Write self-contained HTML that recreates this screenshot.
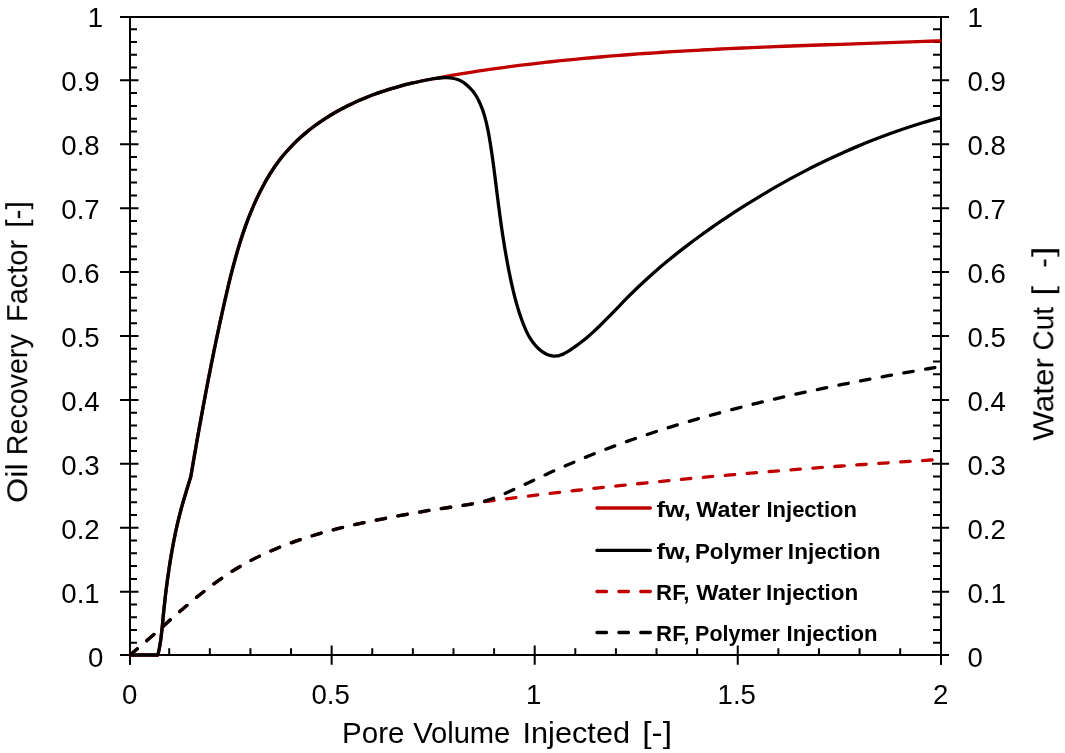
<!DOCTYPE html>
<html><head><meta charset="utf-8"><title>Chart</title>
<style>html,body{margin:0;padding:0;background:#fff}body{width:1065px;height:753px;overflow:hidden;font-family:"Liberation Sans",sans-serif}</style>
</head><body>
<svg width="1065" height="753" viewBox="0 0 1065 753" style="display:block">
<rect width="1065" height="753" fill="#fff"/>
<g stroke="#000" stroke-width="2" fill="none">
<path d="M120,17.0 H949"/>
<path d="M120,655.0 H949"/>
<path d="M130.0,16.0 V664.7"/>
<path d="M941.0,16.0 V664.7"/>
<path d="M120,655.00H138.5M932,655.00H949M130.0,642.82H137M933,642.82H941.0M130.0,630.03H137M933,630.03H941.0M130.0,617.25H137M933,617.25H941.0M130.0,604.46H137M933,604.46H941.0M120,591.68H138.5M932,591.68H949M130.0,578.90H137M933,578.90H941.0M130.0,566.11H137M933,566.11H941.0M130.0,553.33H137M933,553.33H941.0M130.0,540.54H137M933,540.54H941.0M120,527.76H138.5M932,527.76H949M130.0,514.98H137M933,514.98H941.0M130.0,502.19H137M933,502.19H941.0M130.0,489.41H137M933,489.41H941.0M130.0,476.62H137M933,476.62H941.0M120,463.84H138.5M932,463.84H949M130.0,451.06H137M933,451.06H941.0M130.0,438.27H137M933,438.27H941.0M130.0,425.49H137M933,425.49H941.0M130.0,412.70H137M933,412.70H941.0M120,399.92H138.5M932,399.92H949M130.0,387.14H137M933,387.14H941.0M130.0,374.35H137M933,374.35H941.0M130.0,361.57H137M933,361.57H941.0M130.0,348.78H137M933,348.78H941.0M120,336.00H138.5M932,336.00H949M130.0,323.22H137M933,323.22H941.0M130.0,310.43H137M933,310.43H941.0M130.0,297.65H137M933,297.65H941.0M130.0,284.86H137M933,284.86H941.0M120,272.08H138.5M932,272.08H949M130.0,259.30H137M933,259.30H941.0M130.0,246.51H137M933,246.51H941.0M130.0,233.73H137M933,233.73H941.0M130.0,220.94H137M933,220.94H941.0M120,208.16H138.5M932,208.16H949M130.0,195.38H137M933,195.38H941.0M130.0,182.59H137M933,182.59H941.0M130.0,169.81H137M933,169.81H941.0M130.0,157.02H137M933,157.02H941.0M120,144.24H138.5M932,144.24H949M130.0,131.46H137M933,131.46H941.0M130.0,118.67H137M933,118.67H941.0M130.0,105.89H137M933,105.89H941.0M130.0,93.10H137M933,93.10H941.0M120,80.32H138.5M932,80.32H949M130.0,67.54H137M933,67.54H941.0M130.0,54.75H137M933,54.75H941.0M130.0,41.97H137M933,41.97H941.0M130.0,29.18H137M933,29.18H941.0M120,17.00H138.5M932,17.00H949M130.00,645.5V664.7M169.21,648.3V655.0M209.82,648.3V655.0M250.43,648.3V655.0M291.04,648.3V655.0M331.65,645.5V664.7M372.26,648.3V655.0M412.87,648.3V655.0M453.48,648.3V655.0M494.09,648.3V655.0M534.70,645.5V664.7M575.31,648.3V655.0M615.92,648.3V655.0M656.53,648.3V655.0M697.14,648.3V655.0M737.75,645.5V664.7M778.36,648.3V655.0M818.97,648.3V655.0M859.58,648.3V655.0M900.19,648.3V655.0M941.00,645.5V664.7"/>
</g>
<g fill="none" stroke-width="3.3" stroke-linejoin="round">
<path d="M130,655 L156.6,655 L157.90,655.00 C158.13,653.97 158.83,650.96 159.25,648.79 C159.67,646.62 160.05,644.42 160.42,642.00 C160.78,639.58 161.10,637.16 161.44,634.27 C161.78,631.37 162.06,628.55 162.45,624.64 C162.83,620.72 163.30,615.39 163.77,610.76 C164.24,606.13 164.74,601.50 165.28,596.87 C165.82,592.24 166.40,587.61 167.02,582.99 C167.63,578.36 168.29,573.74 168.98,569.12 C169.68,564.50 170.41,559.89 171.20,555.29 C171.98,550.68 172.83,545.97 173.70,541.50 C174.56,537.03 175.47,532.65 176.40,528.48 C177.32,524.30 178.26,520.33 179.23,516.45 C180.20,512.57 181.19,508.88 182.22,505.18 C183.25,501.48 184.21,498.30 185.42,494.25 C186.63,490.20 188.55,483.92 189.47,480.88 C190.38,477.84 190.27,479.11 190.90,476.00 C191.53,472.89 192.46,466.82 193.26,462.23 C194.05,457.63 194.84,453.04 195.65,448.44 C196.45,443.85 197.26,439.25 198.08,434.66 C198.89,430.06 199.72,425.47 200.55,420.87 C201.39,416.28 202.23,411.69 203.08,407.09 C203.93,402.50 204.79,397.91 205.66,393.32 C206.53,388.73 207.41,384.14 208.30,379.55 C209.19,374.97 210.09,370.38 211.00,365.80 C211.91,361.22 212.83,356.64 213.77,352.06 C214.71,347.49 215.65,342.91 216.61,338.35 C217.57,333.78 218.55,329.21 219.53,324.65 C220.52,320.09 221.52,315.53 222.53,310.98 C223.55,306.43 224.57,301.88 225.62,297.34 C226.67,292.80 227.72,288.27 228.82,283.74 C229.91,279.21 231.02,274.70 232.19,270.19 C233.35,265.69 234.57,261.12 235.81,256.71 C237.05,252.31 238.36,247.87 239.62,243.77 C240.89,239.67 242.13,235.86 243.40,232.14 C244.66,228.41 245.93,224.88 247.22,221.42 C248.52,217.97 249.82,214.64 251.15,211.39 C252.49,208.15 253.85,204.97 255.22,201.94 C256.58,198.91 257.95,196.02 259.33,193.22 C260.71,190.42 262.10,187.75 263.50,185.16 C264.90,182.57 266.31,180.09 267.74,177.69 C269.16,175.29 270.60,172.99 272.05,170.76 C273.50,168.53 274.96,166.39 276.44,164.32 C277.91,162.25 279.40,160.27 280.91,158.34 C282.41,156.42 283.92,154.59 285.47,152.79 C287.02,150.98 288.57,149.25 290.21,147.51 C291.84,145.77 293.53,144.05 295.27,142.34 C297.01,140.64 298.81,138.96 300.66,137.29 C302.51,135.63 304.42,133.98 306.38,132.36 C308.34,130.74 310.36,129.13 312.44,127.55 C314.52,125.97 316.65,124.41 318.84,122.88 C321.03,121.35 323.27,119.83 325.57,118.35 C327.87,116.87 330.23,115.41 332.63,113.98 C335.04,112.56 337.50,111.16 340.00,109.79 C342.51,108.43 345.07,107.09 347.67,105.80 C350.27,104.50 352.92,103.24 355.61,102.01 C358.30,100.78 361.03,99.60 363.82,98.44 C366.61,97.28 369.45,96.16 372.35,95.07 C375.25,93.98 378.20,92.92 381.23,91.90 C384.26,90.87 387.34,89.87 390.52,88.91 C393.69,87.94 396.93,87.01 400.27,86.10 C403.61,85.19 407.03,84.31 410.57,83.46 C414.11,82.61 417.73,81.78 421.50,80.99 C425.26,80.21 430.70,79.20 433.17,78.75 C435.64,78.30 433.49,78.81 436.31,78.30 C439.13,77.79 445.48,76.51 450.07,75.68 C454.66,74.86 459.25,74.08 463.84,73.33 C468.44,72.58 473.03,71.87 477.63,71.18 C482.24,70.49 486.84,69.82 491.45,69.17 C496.06,68.52 500.68,67.89 505.30,67.27 C509.92,66.66 514.54,66.06 519.17,65.48 C523.80,64.90 528.43,64.34 533.06,63.79 C537.70,63.25 542.34,62.72 546.98,62.20 C551.62,61.69 556.26,61.19 560.91,60.71 C565.55,60.22 570.20,59.76 574.85,59.30 C579.49,58.85 584.14,58.41 588.79,57.99 C593.45,57.56 598.10,57.15 602.75,56.75 C607.40,56.35 612.06,55.97 616.71,55.59 C621.37,55.22 626.02,54.86 630.68,54.51 C635.34,54.16 639.99,53.82 644.65,53.49 C649.31,53.17 653.97,52.85 658.63,52.54 C663.29,52.24 667.95,51.94 672.61,51.66 C677.27,51.37 681.93,51.09 686.59,50.83 C691.25,50.56 695.91,50.30 700.57,50.05 C705.23,49.80 709.89,49.56 714.56,49.32 C719.22,49.09 723.88,48.86 728.54,48.64 C733.20,48.42 737.86,48.20 742.53,47.99 C747.19,47.79 751.85,47.58 756.51,47.39 C761.17,47.19 765.83,47.00 770.50,46.81 C775.16,46.63 779.82,46.44 784.48,46.27 C789.14,46.09 793.80,45.91 798.47,45.74 C803.13,45.57 807.79,45.41 812.45,45.24 C817.11,45.07 821.78,44.91 826.44,44.75 C831.10,44.59 835.76,44.43 840.43,44.28 C845.09,44.12 849.75,43.96 854.41,43.81 C859.08,43.65 863.74,43.50 868.40,43.34 C873.07,43.19 877.73,43.03 882.39,42.88 C887.06,42.72 891.72,42.56 896.39,42.40 C901.05,42.25 905.72,42.09 910.38,41.92 C915.05,41.76 919.71,41.60 924.38,41.43 C929.04,41.26 935.52,41.02 938.38,40.92 C941.23,40.81 940.98,40.82 941.50,40.80" stroke="#c00000"/>
<path d="M130,655 L156.6,655 L157.90,655.00 C158.13,653.97 158.83,650.96 159.25,648.79 C159.67,646.62 160.05,644.42 160.42,642.00 C160.78,639.58 161.10,637.16 161.44,634.27 C161.78,631.37 162.06,628.55 162.45,624.64 C162.83,620.72 163.30,615.39 163.77,610.76 C164.24,606.13 164.74,601.50 165.28,596.87 C165.82,592.24 166.40,587.61 167.02,582.99 C167.63,578.36 168.29,573.74 168.98,569.12 C169.68,564.50 170.41,559.89 171.20,555.29 C171.98,550.68 172.83,545.97 173.70,541.50 C174.56,537.03 175.47,532.65 176.40,528.48 C177.32,524.30 178.26,520.33 179.23,516.45 C180.20,512.57 181.19,508.88 182.22,505.18 C183.25,501.48 184.21,498.30 185.42,494.25 C186.63,490.20 188.55,483.92 189.47,480.88 C190.38,477.84 190.27,479.11 190.90,476.00 C191.53,472.89 192.46,466.82 193.26,462.23 C194.05,457.63 194.84,453.04 195.65,448.44 C196.45,443.85 197.26,439.25 198.08,434.66 C198.89,430.06 199.72,425.47 200.55,420.87 C201.39,416.28 202.23,411.69 203.08,407.09 C203.93,402.50 204.79,397.91 205.66,393.32 C206.53,388.73 207.41,384.14 208.30,379.55 C209.19,374.97 210.09,370.38 211.00,365.80 C211.91,361.22 212.83,356.64 213.77,352.06 C214.71,347.49 215.65,342.91 216.61,338.35 C217.57,333.78 218.55,329.21 219.53,324.65 C220.52,320.09 221.52,315.53 222.53,310.98 C223.55,306.43 224.57,301.88 225.62,297.34 C226.67,292.80 227.72,288.27 228.82,283.74 C229.91,279.21 231.02,274.70 232.19,270.19 C233.35,265.69 234.57,261.12 235.81,256.71 C237.05,252.31 238.36,247.87 239.62,243.77 C240.89,239.67 242.13,235.86 243.40,232.14 C244.66,228.41 245.93,224.88 247.22,221.42 C248.52,217.97 249.82,214.64 251.15,211.39 C252.49,208.15 253.85,204.97 255.22,201.94 C256.58,198.91 257.95,196.02 259.33,193.22 C260.71,190.42 262.10,187.75 263.50,185.16 C264.90,182.57 266.31,180.09 267.74,177.69 C269.16,175.29 270.60,172.99 272.05,170.76 C273.50,168.53 274.96,166.39 276.44,164.32 C277.91,162.25 279.40,160.27 280.91,158.34 C282.41,156.42 283.92,154.59 285.47,152.79 C287.02,150.98 288.57,149.25 290.21,147.51 C291.84,145.77 293.53,144.05 295.27,142.34 C297.01,140.64 298.81,138.96 300.66,137.29 C302.51,135.63 304.42,133.98 306.38,132.36 C308.34,130.74 310.36,129.13 312.44,127.55 C314.52,125.97 316.65,124.41 318.84,122.88 C321.03,121.35 323.27,119.83 325.57,118.35 C327.87,116.87 330.23,115.41 332.63,113.98 C335.04,112.56 337.50,111.16 340.00,109.79 C342.51,108.43 345.07,107.09 347.67,105.80 C350.27,104.50 352.92,103.24 355.61,102.01 C358.30,100.78 361.03,99.60 363.82,98.44 C366.61,97.28 369.45,96.16 372.35,95.07 C375.25,93.98 378.20,92.92 381.23,91.90 C384.26,90.87 387.34,89.87 390.52,88.91 C393.69,87.94 396.93,87.01 400.27,86.10 C403.61,85.19 407.03,84.31 410.57,83.46 C414.11,82.61 417.73,81.78 421.50,80.99 C425.26,80.21 430.70,79.20 433.17,78.75 C435.64,78.30 434.84,78.46 436.31,78.30 C437.78,78.13 440.31,77.85 442.01,77.75 C443.72,77.64 445.15,77.64 446.55,77.67 C447.95,77.70 449.20,77.80 450.41,77.93 C451.61,78.07 452.71,78.26 453.78,78.49 C454.84,78.72 455.83,78.99 456.80,79.30 C457.76,79.61 458.66,79.96 459.54,80.36 C460.43,80.75 461.25,81.17 462.11,81.67 C462.97,82.17 463.84,82.72 464.70,83.34 C465.57,83.96 466.44,84.64 467.30,85.38 C468.15,86.12 469.01,86.92 469.85,87.78 C470.68,88.64 471.49,89.55 472.28,90.52 C473.07,91.49 473.84,92.50 474.59,93.59 C475.34,94.67 476.07,95.82 476.78,97.04 C477.49,98.26 478.18,99.54 478.86,100.91 C479.53,102.28 480.19,103.72 480.83,105.26 C481.47,106.80 482.09,108.42 482.69,110.14 C483.29,111.86 483.88,113.68 484.45,115.61 C485.01,117.53 485.56,119.56 486.08,121.70 C486.61,123.84 487.08,125.96 487.59,128.44 C488.10,130.92 488.56,133.26 489.14,136.59 C489.72,139.92 490.43,144.11 491.09,148.41 C491.75,152.70 492.47,157.70 493.11,162.37 C493.75,167.04 494.34,171.75 494.94,176.42 C495.53,181.10 496.10,185.79 496.68,190.43 C497.26,195.07 497.83,199.68 498.42,204.27 C499.02,208.86 499.61,213.42 500.24,217.97 C500.86,222.53 501.50,227.07 502.18,231.61 C502.85,236.16 503.55,240.70 504.30,245.26 C505.04,249.82 505.82,254.38 506.66,258.97 C507.49,263.57 508.36,268.18 509.31,272.83 C510.25,277.48 511.32,282.53 512.31,286.86 C513.30,291.19 514.29,295.17 515.25,298.82 C516.20,302.47 517.13,305.69 518.06,308.77 C518.99,311.84 519.91,314.63 520.83,317.28 C521.75,319.93 522.66,322.36 523.57,324.67 C524.49,326.97 525.48,329.26 526.33,331.10 C527.18,332.94 527.89,334.29 528.65,335.68 C529.41,337.07 530.14,338.27 530.91,339.45 C531.68,340.63 532.45,341.71 533.27,342.77 C534.08,343.84 534.92,344.84 535.82,345.82 C536.71,346.80 537.69,347.80 538.65,348.67 C539.60,349.55 540.59,350.37 541.54,351.09 C542.50,351.81 543.45,352.44 544.38,352.99 C545.31,353.54 546.23,354.00 547.12,354.39 C548.02,354.78 548.89,355.09 549.76,355.35 C550.62,355.60 551.48,355.78 552.31,355.91 C553.14,356.04 553.97,356.10 554.74,356.11 C555.52,356.12 556.21,356.06 556.93,355.97 C557.66,355.87 558.35,355.73 559.08,355.54 C559.81,355.34 560.55,355.10 561.34,354.79 C562.13,354.48 562.92,354.13 563.83,353.68 C564.73,353.22 565.59,352.76 566.77,352.06 C567.94,351.37 569.29,350.55 570.86,349.52 C572.44,348.49 574.40,347.17 576.20,345.88 C578.00,344.59 579.81,343.24 581.66,341.79 C583.51,340.34 585.38,338.82 587.32,337.17 C589.26,335.52 591.22,333.79 593.31,331.88 C595.40,329.97 597.51,327.99 599.86,325.71 C602.21,323.43 604.51,321.14 607.41,318.20 C610.30,315.26 613.95,311.44 617.23,308.07 C620.51,304.69 623.79,301.24 627.07,297.94 C630.35,294.63 633.70,291.32 636.90,288.24 C640.10,285.16 643.09,282.37 646.28,279.45 C649.48,276.54 652.73,273.63 656.06,270.73 C659.39,267.83 662.79,264.94 666.28,262.05 C669.76,259.15 673.34,256.24 676.96,253.37 C680.58,250.50 684.29,247.62 688.00,244.81 C691.70,241.99 695.44,239.22 699.20,236.47 C702.96,233.73 706.75,231.03 710.57,228.36 C714.38,225.68 718.22,223.04 722.08,220.44 C725.94,217.83 729.82,215.25 733.72,212.70 C737.63,210.15 741.55,207.63 745.50,205.15 C749.44,202.66 753.41,200.21 757.40,197.79 C761.39,195.37 765.40,192.98 769.43,190.62 C773.45,188.27 777.50,185.95 781.57,183.67 C785.64,181.38 789.73,179.13 793.84,176.92 C797.95,174.71 802.08,172.54 806.23,170.40 C810.37,168.26 814.54,166.16 818.73,164.10 C822.91,162.04 827.12,160.02 831.34,158.04 C835.57,156.06 839.81,154.12 844.07,152.22 C848.33,150.32 852.61,148.46 856.90,146.64 C861.20,144.83 865.51,143.06 869.85,141.33 C874.18,139.60 878.53,137.91 882.89,136.27 C887.26,134.63 891.64,133.04 896.04,131.49 C900.44,129.94 904.86,128.43 909.30,126.98 C913.73,125.52 918.18,124.11 922.65,122.75 C927.11,121.39 933.11,119.68 936.09,118.82 C939.07,117.96 939.77,117.80 940.50,117.60" stroke="#000"/>
<path d="M130.00,655.00 C131.66,653.60 136.54,649.53 139.95,646.61 C143.35,643.69 146.93,640.56 150.42,637.49 C153.92,634.42 157.41,631.30 160.92,628.19 C164.43,625.08 167.94,621.94 171.48,618.83 C175.02,615.71 178.56,612.59 182.14,609.51 C185.72,606.43 189.32,603.35 192.95,600.34 C196.58,597.33 200.49,594.16 203.94,591.45 C207.39,588.73 210.54,586.34 213.63,584.05 C216.73,581.75 219.64,579.68 222.50,577.70 C225.37,575.71 228.12,573.89 230.82,572.15 C233.53,570.41 236.10,568.83 238.75,567.26 C241.39,565.69 243.99,564.21 246.69,562.73 C249.39,561.25 252.13,559.80 254.94,558.38 C257.74,556.96 260.60,555.57 263.52,554.20 C266.45,552.84 269.43,551.50 272.49,550.18 C275.55,548.87 278.67,547.58 281.88,546.31 C285.09,545.04 288.37,543.80 291.75,542.58 C295.13,541.35 298.59,540.15 302.17,538.96 C305.74,537.78 309.41,536.61 313.21,535.46 C317.02,534.31 320.92,533.18 325.00,532.05 C329.07,530.93 333.27,529.82 337.67,528.71 C342.07,527.60 346.80,526.47 351.40,525.41 C355.99,524.35 360.60,523.35 365.22,522.37 C369.85,521.38 374.49,520.44 379.13,519.52 C383.77,518.60 388.43,517.72 393.09,516.84 C397.75,515.96 402.42,515.11 407.08,514.27 C411.74,513.43 416.41,512.60 421.05,511.80 C425.70,511.01 430.34,510.24 434.96,509.52 C439.57,508.80 444.16,508.15 448.72,507.50 C453.27,506.84 458.25,506.22 462.29,505.60 C466.34,504.99 470.02,504.36 472.97,503.80 C475.92,503.25 476.49,502.85 479.99,502.29 C483.48,501.73 489.29,501.04 493.94,500.44 C498.59,499.83 503.24,499.23 507.89,498.64 C512.54,498.04 517.19,497.46 521.83,496.88 C526.48,496.30 531.13,495.73 535.77,495.17 C540.41,494.60 545.06,494.04 549.70,493.49 C554.34,492.94 558.98,492.39 563.62,491.85 C568.26,491.31 572.90,490.78 577.54,490.25 C582.17,489.72 586.81,489.20 591.45,488.69 C596.08,488.17 600.72,487.66 605.36,487.16 C609.99,486.65 614.63,486.16 619.26,485.66 C623.90,485.17 628.53,484.68 633.16,484.20 C637.80,483.72 642.43,483.25 647.06,482.78 C651.70,482.31 656.33,481.85 660.96,481.39 C665.60,480.93 670.23,480.47 674.86,480.03 C679.50,479.58 684.13,479.14 688.76,478.70 C693.40,478.26 698.03,477.83 702.66,477.40 C707.30,476.98 711.93,476.55 716.57,476.14 C721.20,475.72 725.84,475.31 730.47,474.90 C735.11,474.49 739.75,474.09 744.38,473.69 C749.02,473.30 753.66,472.90 758.30,472.51 C762.93,472.13 767.57,471.74 772.21,471.36 C776.86,470.98 781.50,470.61 786.14,470.24 C790.78,469.87 795.42,469.50 800.07,469.14 C804.71,468.78 809.36,468.42 814.01,468.07 C818.65,467.72 823.30,467.37 827.95,467.02 C832.60,466.68 837.25,466.34 841.91,466.00 C846.56,465.66 851.21,465.33 855.87,465.00 C860.53,464.67 865.18,464.35 869.84,464.03 C874.50,463.70 879.16,463.39 883.83,463.07 C888.49,462.76 893.16,462.45 897.82,462.14 C902.49,461.83 907.16,461.53 911.83,461.23 C916.50,460.93 921.18,460.63 925.85,460.34 C930.53,460.05 937.36,459.63 939.89,459.47 C942.41,459.31 940.82,459.41 941.00,459.40" stroke="#c00000" stroke-dasharray="9.5 12.5" stroke-linecap="round"/>
<path d="M130.00,655.00 C131.66,653.60 136.54,649.53 139.95,646.61 C143.35,643.69 146.93,640.56 150.42,637.49 C153.92,634.42 157.41,631.30 160.92,628.19 C164.43,625.08 167.94,621.94 171.48,618.83 C175.02,615.71 178.56,612.59 182.14,609.51 C185.72,606.43 189.32,603.35 192.95,600.34 C196.58,597.33 200.49,594.16 203.94,591.45 C207.39,588.73 210.54,586.34 213.63,584.05 C216.73,581.75 219.64,579.68 222.50,577.70 C225.37,575.71 228.12,573.89 230.82,572.15 C233.53,570.41 236.10,568.83 238.75,567.26 C241.39,565.69 243.99,564.21 246.69,562.73 C249.39,561.25 252.13,559.80 254.94,558.38 C257.74,556.96 260.60,555.57 263.52,554.20 C266.45,552.84 269.43,551.50 272.49,550.18 C275.55,548.87 278.67,547.58 281.88,546.31 C285.09,545.04 288.37,543.80 291.75,542.58 C295.13,541.35 298.59,540.15 302.17,538.96 C305.74,537.78 309.41,536.61 313.21,535.46 C317.02,534.31 320.92,533.18 325.00,532.05 C329.07,530.93 333.27,529.82 337.67,528.71 C342.07,527.60 346.80,526.47 351.40,525.41 C355.99,524.35 360.60,523.35 365.22,522.37 C369.85,521.38 374.49,520.44 379.13,519.52 C383.77,518.60 388.43,517.72 393.09,516.84 C397.75,515.96 402.42,515.11 407.08,514.27 C411.74,513.43 416.41,512.60 421.05,511.80 C425.70,511.01 430.34,510.24 434.96,509.52 C439.57,508.80 444.16,508.15 448.72,507.50 C453.27,506.84 458.25,506.22 462.29,505.60 C466.34,504.99 470.02,504.36 472.97,503.80 C475.92,503.25 477.76,502.82 479.99,502.29 C482.21,501.75 484.29,501.19 486.30,500.60 C488.31,500.00 490.09,499.42 492.05,498.73 C494.00,498.04 495.86,497.33 498.03,496.46 C500.21,495.58 502.36,494.67 505.10,493.46 C507.84,492.25 510.76,490.92 514.46,489.20 C518.17,487.48 523.05,485.14 527.33,483.14 C531.60,481.13 535.85,479.13 540.10,477.17 C544.35,475.21 548.58,473.28 552.81,471.37 C557.05,469.47 561.28,467.60 565.52,465.75 C569.77,463.91 574.01,462.09 578.27,460.31 C582.54,458.52 586.81,456.77 591.11,455.04 C595.41,453.31 599.73,451.61 604.07,449.94 C608.41,448.27 612.76,446.63 617.14,445.02 C621.51,443.41 625.90,441.83 630.30,440.28 C634.70,438.73 639.12,437.20 643.55,435.71 C647.97,434.21 652.41,432.75 656.86,431.31 C661.31,429.87 665.77,428.46 670.24,427.07 C674.71,425.68 679.19,424.32 683.67,422.98 C688.16,421.65 692.65,420.33 697.15,419.04 C701.65,417.75 706.16,416.49 710.67,415.25 C715.18,414.00 719.70,412.78 724.22,411.58 C728.74,410.38 733.27,409.20 737.80,408.04 C742.32,406.88 746.85,405.73 751.39,404.61 C755.92,403.49 760.45,402.39 764.99,401.30 C769.53,400.21 774.07,399.15 778.61,398.10 C783.16,397.04 787.70,396.01 792.25,394.99 C796.80,393.98 801.35,392.97 805.91,391.99 C810.46,391.00 815.02,390.03 819.58,389.08 C824.14,388.12 828.70,387.18 833.27,386.25 C837.83,385.32 842.40,384.41 846.97,383.51 C851.55,382.61 856.12,381.72 860.70,380.84 C865.28,379.97 869.86,379.10 874.44,378.25 C879.03,377.40 883.62,376.56 888.21,375.73 C892.80,374.89 897.39,374.07 901.99,373.26 C906.58,372.45 911.18,371.65 915.79,370.86 C920.39,370.06 925.40,369.21 929.61,368.50 C933.81,367.79 939.10,366.92 941.00,366.60" stroke="#000" stroke-dasharray="9.5 12.5" stroke-linecap="round"/>
</g>
<g fill="none" stroke-width="3.3" stroke-linecap="round">
<path d="M596.95,508H650.35" stroke="#c00000"/>
<path d="M596.95,550.4H650.35" stroke="#000"/>
<path d="M596.95,591.5H650.35" stroke="#c00000" stroke-dasharray="9.6 12.3"/>
<path d="M596.95,632.5H650.35" stroke="#000" stroke-dasharray="9.6 12.3"/>
</g>
<g font-family="Liberation Sans, sans-serif" font-size="30" fill="#000" style="will-change:opacity">
<text x="342.06" y="743.20" textLength="62.35" lengthAdjust="spacingAndGlyphs">Pore</text>
<text x="413.15" y="743.20" textLength="97.20" lengthAdjust="spacingAndGlyphs">Volume</text>
<text x="522.50" y="743.20" textLength="107.54" lengthAdjust="spacingAndGlyphs">Injected</text>
<text x="642.30" y="743.20" textLength="29.72" lengthAdjust="spacingAndGlyphs">[-]</text>
<g transform="translate(27.2,0) rotate(-90)">
<text x="-503.07" y="0.00" textLength="39.68" lengthAdjust="spacingAndGlyphs">Oil</text>
<text x="-455.16" y="0.00" textLength="120.87" lengthAdjust="spacingAndGlyphs">Recovery</text>
<text x="-321.89" y="0.00" textLength="81.96" lengthAdjust="spacingAndGlyphs">Factor</text>
<text x="-227.87" y="0.00" textLength="26.81" lengthAdjust="spacingAndGlyphs">[-]</text>
</g>
<g transform="translate(1053.3,0) rotate(-90)">
<text x="-440.71" y="0.00" textLength="82.74" lengthAdjust="spacingAndGlyphs">Water</text>
<text x="-350.38" y="0.00" textLength="43.51" lengthAdjust="spacingAndGlyphs">Cut</text>
<text x="-295.46" y="0.00" textLength="9.56" lengthAdjust="spacingAndGlyphs">[</text>
<text x="-267.80" y="0.00" textLength="9.61" lengthAdjust="spacingAndGlyphs">-</text>
<text x="-257.01" y="0.00" textLength="10.53" lengthAdjust="spacingAndGlyphs">]</text>
</g>
</g>
<g font-family="Liberation Sans, sans-serif" font-size="22.8" font-weight="bold" fill="#000" style="will-change:opacity">
<text x="656.56" y="516.90" textLength="34.31" lengthAdjust="spacingAndGlyphs">fw,</text>
<text x="696.32" y="516.90" textLength="63.84" lengthAdjust="spacingAndGlyphs">Water</text>
<text x="766.51" y="516.90" textLength="90.40" lengthAdjust="spacingAndGlyphs">Injection</text>
<text x="656.56" y="558.70" textLength="34.31" lengthAdjust="spacingAndGlyphs">fw,</text>
<text x="694.99" y="558.70" textLength="88.07" lengthAdjust="spacingAndGlyphs">Polymer</text>
<text x="787.87" y="558.70" textLength="92.73" lengthAdjust="spacingAndGlyphs">Injection</text>
<text x="656.10" y="600.10" textLength="33.35" lengthAdjust="spacingAndGlyphs">RF,</text>
<text x="696.32" y="600.10" textLength="64.75" lengthAdjust="spacingAndGlyphs">Water</text>
<text x="765.98" y="600.10" textLength="92.34" lengthAdjust="spacingAndGlyphs">Injection</text>
<text x="656.10" y="641.00" textLength="33.35" lengthAdjust="spacingAndGlyphs">RF,</text>
<text x="695.05" y="641.00" textLength="84.86" lengthAdjust="spacingAndGlyphs">Polymer</text>
<text x="786.50" y="641.00" textLength="91.17" lengthAdjust="spacingAndGlyphs">Injection</text>
</g>
<g font-family="Liberation Sans, sans-serif" font-size="28" fill="#000" style="will-change:opacity">
<text x="88.06" y="667.00" textLength="15.36" lengthAdjust="spacingAndGlyphs">0</text>
<text x="967.47" y="667.00" textLength="15.36" lengthAdjust="spacingAndGlyphs">0</text>
<text x="61.32" y="602.68" textLength="38.39" lengthAdjust="spacingAndGlyphs">0.1</text>
<text x="967.47" y="602.68" textLength="38.39" lengthAdjust="spacingAndGlyphs">0.1</text>
<text x="61.32" y="538.76" textLength="38.39" lengthAdjust="spacingAndGlyphs">0.2</text>
<text x="967.47" y="538.76" textLength="38.39" lengthAdjust="spacingAndGlyphs">0.2</text>
<text x="61.32" y="474.84" textLength="38.39" lengthAdjust="spacingAndGlyphs">0.3</text>
<text x="967.47" y="474.84" textLength="38.39" lengthAdjust="spacingAndGlyphs">0.3</text>
<text x="61.32" y="410.92" textLength="38.39" lengthAdjust="spacingAndGlyphs">0.4</text>
<text x="967.47" y="410.92" textLength="38.39" lengthAdjust="spacingAndGlyphs">0.4</text>
<text x="61.32" y="347.00" textLength="38.39" lengthAdjust="spacingAndGlyphs">0.5</text>
<text x="967.47" y="347.00" textLength="38.39" lengthAdjust="spacingAndGlyphs">0.5</text>
<text x="61.32" y="283.08" textLength="38.39" lengthAdjust="spacingAndGlyphs">0.6</text>
<text x="967.47" y="283.08" textLength="38.39" lengthAdjust="spacingAndGlyphs">0.6</text>
<text x="61.32" y="219.16" textLength="38.39" lengthAdjust="spacingAndGlyphs">0.7</text>
<text x="967.47" y="219.16" textLength="38.39" lengthAdjust="spacingAndGlyphs">0.7</text>
<text x="61.32" y="155.24" textLength="38.39" lengthAdjust="spacingAndGlyphs">0.8</text>
<text x="967.47" y="155.24" textLength="38.39" lengthAdjust="spacingAndGlyphs">0.8</text>
<text x="61.32" y="91.32" textLength="38.39" lengthAdjust="spacingAndGlyphs">0.9</text>
<text x="967.47" y="91.32" textLength="38.39" lengthAdjust="spacingAndGlyphs">0.9</text>
<text x="87.66" y="27.00" textLength="15.36" lengthAdjust="spacingAndGlyphs">1</text>
<text x="967.47" y="27.00" textLength="15.36" lengthAdjust="spacingAndGlyphs">1</text>
<text x="122.02" y="704.40" textLength="15.36" lengthAdjust="spacingAndGlyphs">0</text>
<text x="311.45" y="704.40" textLength="38.39" lengthAdjust="spacingAndGlyphs">0.5</text>
<text x="526.02" y="704.40" textLength="15.36" lengthAdjust="spacingAndGlyphs">1</text>
<text x="717.55" y="704.40" textLength="38.39" lengthAdjust="spacingAndGlyphs">1.5</text>
<text x="933.02" y="704.40" textLength="15.36" lengthAdjust="spacingAndGlyphs">2</text>
</g>
</svg>
</body></html>
